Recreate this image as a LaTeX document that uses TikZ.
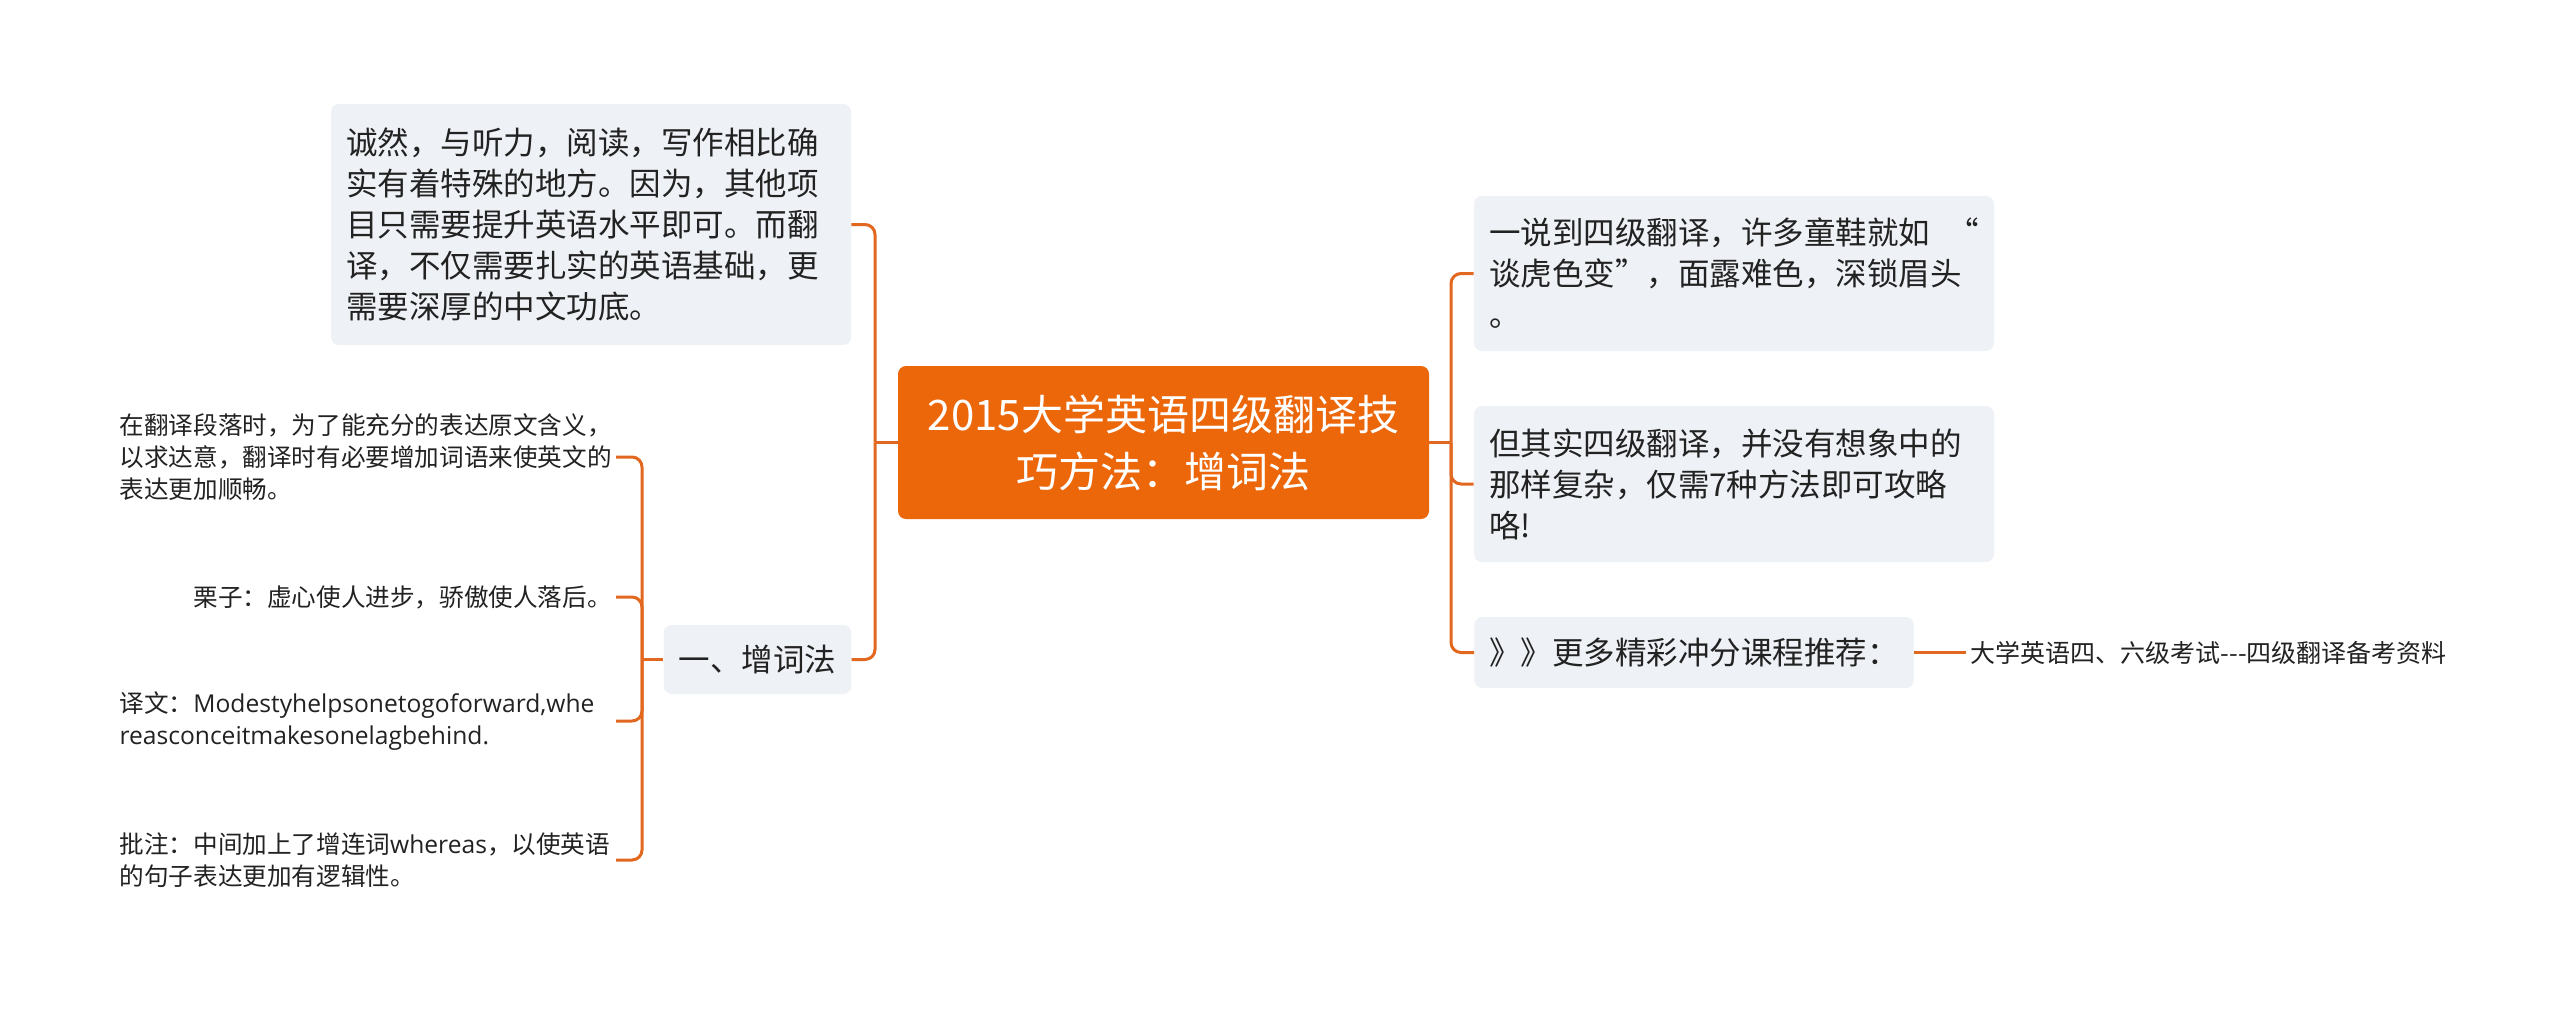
\documentclass[tikz,border=0pt]{standalone}
\usepackage{fontspec}
\newfontfamily\cjk{Noto Sans CJK SC}
\newfontfamily\latin{Open Sans}
\usetikzlibrary{positioning}
\definecolor{rootorange}{RGB}{236,102,10}
\definecolor{lineorange}{RGB}{226,104,32}
\definecolor{boxgray}{RGB}{238,241,245}
\definecolor{textdark}{RGB}{34,34,34}
\tikzstyle{rootbox} = [rectangle, rounded corners=4pt, fill=rootorange, text=white, font=\cjk\fontsize{21}{28.5}\selectfont, align=center, minimum width=265.5pt, minimum height=76.5pt]
\tikzstyle{topic} = [rectangle, rounded corners=4pt, fill=boxgray, text=textdark, font=\cjk\fontsize{15.75}{20.5}\selectfont, align=left, inner xsep=7.5pt]
\tikzstyle{wide} = [text width=245pt]
\tikzstyle{leaf} = [text=textdark, font=\cjk\fontsize{12.3}{16}\selectfont, align=left, inner sep=2pt]
\tikzstyle{block} = [text width=246pt]
\tikzstyle{conn} = [draw=lineorange, line width=1.5pt, rounded corners=5pt]

\begin{document}
\begin{tikzpicture}[x=0.5pt, y=-0.5pt]
\fill[white] (0,0) rectangle (2560,1009);
\useasboundingbox (0,0) rectangle (2560,1009);

\node (root) [rootbox] at (1163.5,442.5) {2015大学英语四级翻译技\\巧方法：增词法};

% left side
\node (intro) [topic, wide, minimum height=120.5pt] at (591,224.5) {诚然，与听力，阅读，写作相比确\\实有着特殊的地方。因为，其他项\\目只需要提升英语水平即可。而翻\\译，不仅需要扎实的英语基础，更\\需要深厚的中文功底。};
\node (method) [topic, minimum height=34.5pt] at (757.5,659.5) {一、增词法};

\node (define) [leaf, block, anchor=east] at (616,457) {在翻译段落时，为了能充分的表达原文含义，\\以求达意，翻译时有必要增加词语来使英文的\\表达更加顺畅。};
\node (example) [leaf, anchor=east] at (616,597) {栗子：虚心使人进步，骄傲使人落后。};
\node (trans) [leaf, block, anchor=east] at (616,721) {译文：{\latin Modestyhelpsonetogoforward,whe}\\{\latin reasconceitmakesonelagbehind.}};
\node (note) [leaf, block, anchor=east] at (616,860) {批注：中间加上了增连词{\latin whereas}，以使英语\\的句子表达更加有逻辑性。};

% right side
\node (fear) [topic, wide, minimum height=77.5pt] at (1734,273.5) {一说到四级翻译，许多童鞋就如\hfill“\\谈虎色变”，面露难色，深锁眉头\\。};
\node (simple) [topic, wide, minimum height=78pt] at (1734,484) {但其实四级翻译，并没有想象中的\\那样复杂，仅需7种方法即可攻略\\咯!};
\node (more) [topic, minimum height=35.5pt, anchor=west] at (1474,652.5) {》》更多精彩冲分课程推荐：};
\node (material) [leaf, font=\cjk\fontsize{12.5}{16}\selectfont, right=26pt of more] {大学英语四、六级考试---四级翻译备考资料};

\coordinate (lhub) at (875,442.5);
\coordinate (rhub) at (1451,442.5);
\coordinate (mhub) at (642,659.5);

\draw [conn] (root.west) -- (lhub);
\draw [conn] (lhub) |- (intro.east);
\draw [conn] (lhub) |- (method.east);

\draw [conn] (method.west) -- (mhub);
\draw [conn] (mhub) |- (define.east);
\draw [conn] (mhub) |- (example.east);
\draw [conn] (mhub) |- (trans.east);
\draw [conn] (mhub) |- (note.east);

\draw [conn] (root.east) -- (rhub);
\draw [conn] (rhub) |- (fear.west);
\draw [conn] (rhub) |- (simple.west);
\draw [conn] (rhub) |- (more.west);

\draw [conn] (more.east) -- (material.west);

\end{tikzpicture}
\end{document}
